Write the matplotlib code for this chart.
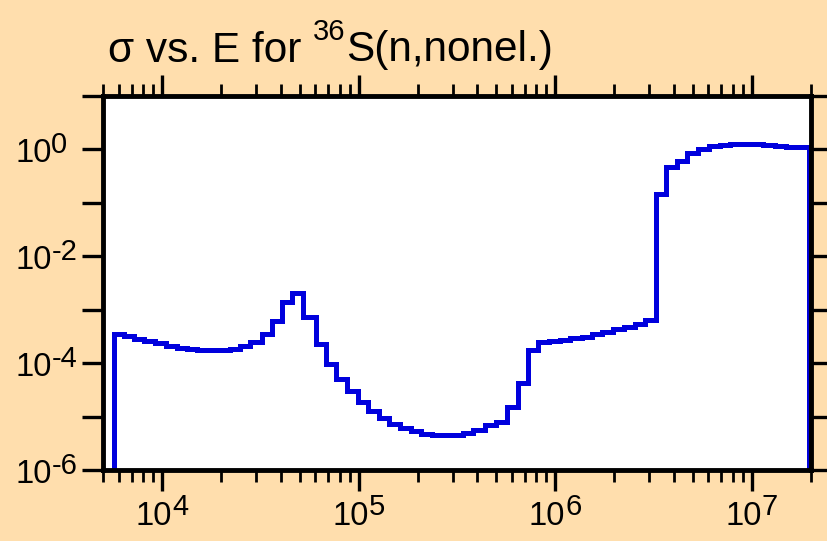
import matplotlib
matplotlib.use("Agg")
import matplotlib.pyplot as plt
from matplotlib.ticker import LogLocator, NullFormatter, NullLocator, FixedLocator
from matplotlib.transforms import IdentityTransform

# ---- data ----
energy_edges = [
    5.66e3, 6.36e3, 7.23e3, 8.13e3, 9.21e3, 1.048e4, 1.188e4, 1.335e4, 1.501e4, 1.688e4,
    1.926e4, 2.217e4, 2.492e4, 2.802e4, 3.213e4, 3.612e4, 4.061e4, 4.596e4, 5.228e4, 6.031e4,
    6.781e4, 7.666e4, 8.69e4, 9.883e4, 1.119e5, 1.273e5, 1.431e5, 1.622e5, 1.838e5, 2.074e5,
    2.35e5, 2.673e5, 3.026e5, 3.402e5, 3.824e5, 4.387e5, 4.989e5, 5.655e5, 6.431e5, 7.28e5,
    8.187e5, 9.28e5, 1.055e6, 1.186e6, 1.36e6, 1.529e6, 1.735e6, 1.97e6, 2.245e6, 2.539e6,
    2.872e6, 3.246e6, 3.679e6, 4.166e6, 4.706e6, 5.328e6, 6.058e6, 6.868e6, 7.784e6, 8.853e6,
    1.014e7, 1.14e7, 1.307e7, 1.5e7, 1.712e7, 1.954e7,
]
sigma = [
    3.50e-4, 3.16e-4, 2.82e-4, 2.54e-4, 2.33e-4, 2.11e-4, 1.94e-4, 1.83e-4, 1.75e-4, 1.72e-4,
    1.75e-4, 1.83e-4, 2.05e-4, 2.44e-4, 3.50e-4, 6.03e-4, 1.41e-3, 2.06e-3, 7.39e-4, 2.27e-4,
    9.59e-5, 5.01e-5, 2.94e-5, 1.88e-5, 1.28e-5, 9.31e-6, 7.38e-6, 6.05e-6, 5.31e-6, 4.79e-6,
    4.53e-6, 4.47e-6, 4.53e-6, 4.83e-6, 5.55e-6, 7.06e-6, 8.04e-6, 1.50e-5, 4.19e-5, 1.75e-4,
    2.44e-4, 2.56e-4, 2.71e-4, 2.90e-4, 3.12e-4, 3.50e-4, 3.87e-4, 4.35e-4, 4.80e-4, 5.46e-4,
    6.30e-4, 0.143, 0.466, 0.603, 0.831, 0.987, 1.14, 1.20, 1.24, 1.26,
    1.24, 1.20, 1.15, 1.11, 1.09,
]
x_label_decades = [4, 5, 6, 7]
y_label_decades = [0, -2, -4, -6]
y_tick_decades = [1, 0, -1, -2, -3, -4, -5, -6]
title_main = "σ vs. E for "
title_sup = "36"
title_rest = "S(n,nonel.)"

# ---- styling ----
FONT = "Liberation Sans"
BG = "#FFDEAD"
LINE = "#0000DD"
W, H = 827, 541

fig = plt.figure(figsize=(W / 100, H / 100), dpi=100, facecolor=BG)
left_px, right_px, top_px, bot_px = 103, 811, 95.5, 470
ax = fig.add_axes([left_px / W, 1 - bot_px / H, (right_px - left_px) / W, (bot_px - top_px) / H])
ax.set_facecolor("white")
ax.set_xscale("log")
ax.set_yscale("log")
ax.set_xlim(5e3, 2e7)
ax.set_ylim(1e-6, 1e1)

ax.stairs(sigma, energy_edges, baseline=1e-9, color=LINE, linewidth=3.6,
          joinstyle="miter", zorder=3)

for s in ax.spines.values():
    s.set_linewidth(3.5)
    s.set_color("black")
    s.set_zorder(4)

ax.xaxis.set_major_locator(LogLocator(base=10, numticks=20))
ax.xaxis.set_minor_locator(LogLocator(base=10, subs=range(2, 10), numticks=40))
ax.xaxis.set_major_formatter(NullFormatter())
ax.xaxis.set_minor_formatter(NullFormatter())
ax.yaxis.set_major_locator(FixedLocator([10.0 ** d for d in y_tick_decades]))
ax.yaxis.set_minor_locator(NullLocator())
ax.yaxis.set_major_formatter(NullFormatter())

ax.tick_params(axis="both", which="major", direction="out", length=15, width=2.4,
               top=True, right=True, colors="black")
ax.tick_params(axis="x", which="minor", direction="out", length=8.5, width=2.0,
               top=True, bottom=True)

fig.canvas.draw()
renderer = fig.canvas.get_renderer()
ident = IdentityTransform()

LAB = 23.5
EXP = 21


def mk(s, size):
    return fig.text(0, 0, s, fontsize=size, family=FONT, ha="left", va="baseline",
                    transform=ident, color="black")


# x tick labels
for d in x_label_decades:
    xp, _ = ax.transData.transform((10.0 ** d, 1.0))
    t1 = mk("10", LAB)
    t2 = mk(str(d), EXP)
    w1 = t1.get_window_extent(renderer).width
    w2 = t2.get_window_extent(renderer).width
    x0 = xp - (w1 + w2) / 2
    base = H - 525
    t1.set_position((x0, base))
    t2.set_position((x0 + w1, base + 10))

# y tick labels
for d in y_label_decades:
    _, yp = ax.transData.transform((1e4, 10.0 ** d))
    t1 = mk("10", LAB)
    w1 = t1.get_window_extent(renderer).width
    base = yp - 13
    t1.set_position((15, base))
    t2 = mk(str(d), EXP)
    t2.set_position((15 + w1, base + 9))

# title
tt = mk(title_main, 30.5)
tt.set_position((108, H - 61.5))
x1 = tt.get_window_extent(renderer).x1
ts = mk(title_sup, 21)
ts.set_position((x1, H - 61.5 + 22))
x2 = ts.get_window_extent(renderer).x1
tr = mk(title_rest, 30.5)
tr.set_position((x2, H - 61.5))

fig.savefig("out.png", dpi=100, facecolor=BG)
